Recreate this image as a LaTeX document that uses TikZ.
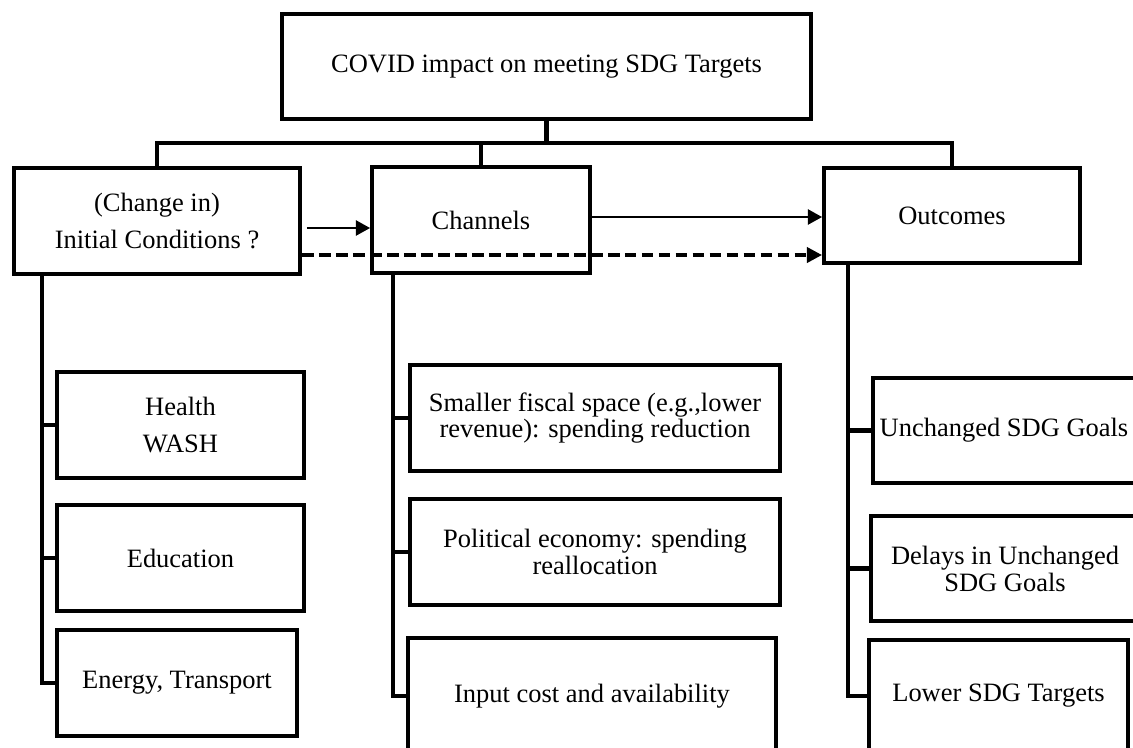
\documentclass[tikz,border=0pt]{standalone}
\usepackage{fontspec}
\setmainfont{Liberation Serif}
\usetikzlibrary{arrows.meta,calc}

\begin{document}
\begin{tikzpicture}[x=0.03cm,y=-0.03cm,
        box/.style={draw,line width=3.4pt,align=center,inner sep=0pt,
            font=\fontsize{22.6pt}{32.4pt}\selectfont},
        tight/.style={font=\fontsize{22.6pt}{23pt}\selectfont},
        sz/.style 2 args={minimum width=#1*0.03cm,minimum height=#2*0.03cm},
        link/.style={line width=3.6pt},
        flow/.style={line width=1.3pt,-{Triangle[length=12pt,width=13pt]}},
        flowdash/.style={line width=3pt,dash pattern=on 10pt off 4.5pt,
            -{Triangle[length=13pt,width=13pt]}}]
        \useasboundingbox (0,0) rectangle (1133,747);
        \clip (0,0) rectangle (1133,747);

        % 顶层
        \node[box,sz={529}{105}] (top) at (546.5,66.5) {COVID impact on meeting SDG Targets};
        \node[box,sz={286}{106}] (init) at (157,221) {(Change in)\\Initial Conditions ?};
        \node[box,sz={218}{106}] (chan) at (481,220) {Channels};
        \node[box,sz={256}{95}] (outc) at (952,215.5) {Outcomes};

        % 总线
        \coordinate (bus) at (0,143);
        \draw[link] (top.south) -- (top.south |- bus);
        \draw[link] (init.north) -- (init.north |- bus) -- (outc.north |- bus) -- (outc.north);
        \draw[link] (chan.north |- bus) -- (chan.north);

        % 左列
        \node[box,sz={247}{106}] (health) at (180.5,425) {Health\\WASH};
        \node[box,sz={247}{106}] (educ) at (180.5,558) {Education};
        \node[box,sz={240}{106}] (energy) at (177,683) {Energy, Transport};

        % 中列
        \node[box,tight,sz={370}{106}] (fiscal) at (595,418) {Smaller fiscal space (e.g.,lower\\revenue): spending reduction};
        \node[box,tight,sz={370}{106}] (polit) at (595,552) {Political economy: spending\\reallocation};
        \node[box,sz={368}{116}] (input) at (592,696) {Input cost and availability};

        % 右列
        \node[box,sz={262}{105}] (unch) at (1004,430.5) {Unchanged SDG Goals};
        \node[box,tight,sz={268}{105}] (delay) at (1005,568.5) {Delays in Unchanged\\SDG Goals};
        \node[box,sz={259}{112}] (lower) at (998.5,696) {Lower SDG Targets};

        % 竖线与分支
        \coordinate (lx) at (42,0);
        \coordinate (mx) at (393,0);
        \coordinate (rx) at (848,0);
        \draw[link] (lx |- init.south) -- (lx |- energy.west) -- (energy.west);
        \draw[link] (mx |- chan.south) -- (mx |- input.west) -- (input.west);
        \draw[link] (rx |- outc.south) -- (rx |- lower.west) -- (lower.west);
        \foreach \c/\x in {health/lx,educ/lx,fiscal/mx,polit/mx,unch/rx,delay/rx}
            \draw[link] (\x |- \c.west) -- (\c.west);

        % 箭头
        \draw[flow] ($(init.east)+(5,7)$) -- ($(chan.west)+(0,8)$);
        \draw[flow] ($(chan.east)+(0,-3)$) -- ($(outc.west)+(0,1.5)$);
        \draw[flowdash] ($(init.east)+(0,34)$) -- ($(outc.west)+(0,39.5)$);

    \end{tikzpicture}
\end{document}
